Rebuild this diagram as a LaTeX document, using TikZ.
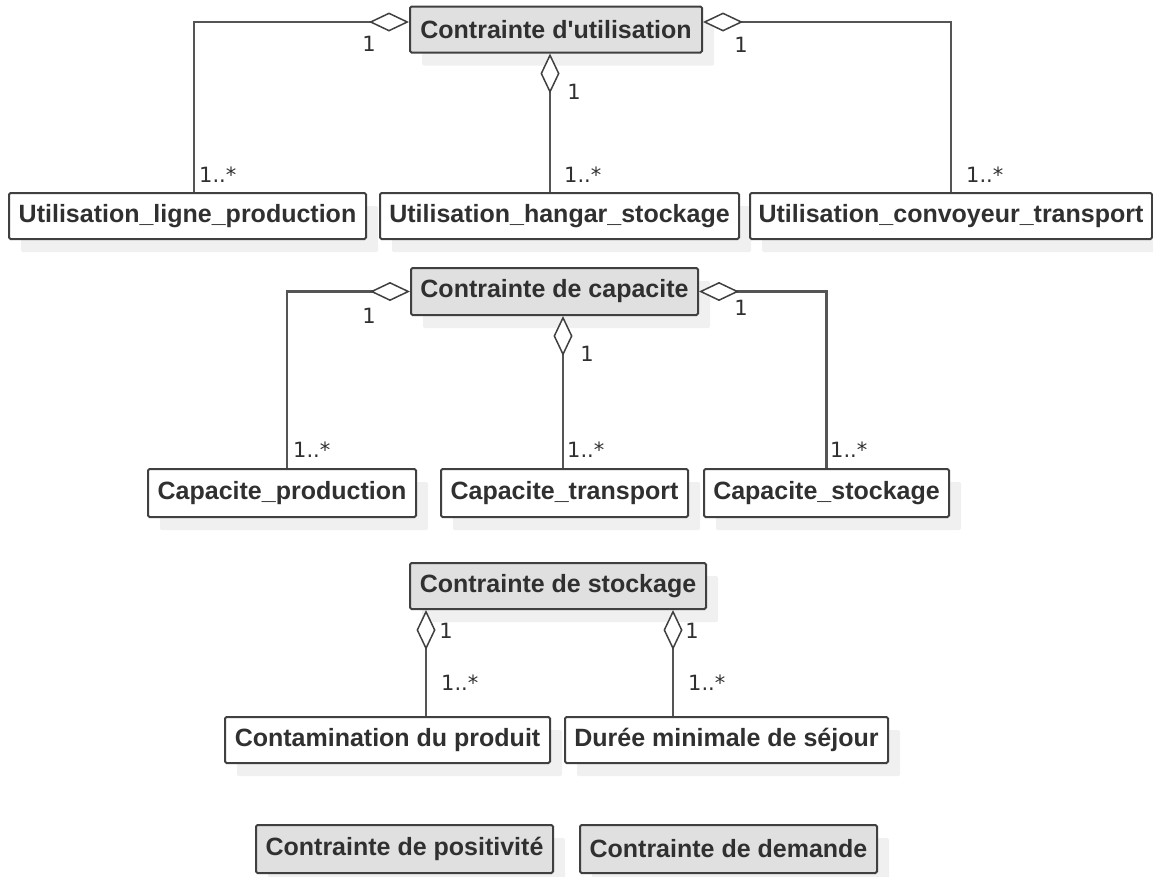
\documentclass[tikz,border=0pt]{standalone}
\usepackage{fontspec}
\setmainfont{Liberation Sans}
\newfontfamily\multfont{DejaVu Sans}
\usetikzlibrary{arrows.meta,shadows}
\definecolor{boxline}{HTML}{404040}
\definecolor{boxfill}{HTML}{E0E0E0}
\definecolor{linkgray}{HTML}{555555}
\definecolor{txtgray}{HTML}{303030}
\definecolor{shadowgray}{HTML}{F0F0F0}

\begin{document}
\begin{tikzpicture}[x=1pt,y=-1pt,
  classbox/.style={draw=boxline,line width=2pt,rounded corners=1.5pt,fill=white,
    minimum height=46pt,inner sep=0pt,text=txtgray,
    font=\fontsize{25}{30}\selectfont\bfseries,
    drop shadow={shadow xshift=12pt,shadow yshift=-13pt,fill=shadowgray,opacity=1,draw=none}},
  groupbox/.style={classbox,fill=boxfill},
  agg/.style={draw=linkgray,line width=2.5pt,
    {Diamond[open,length=40pt,width=19pt,line width=1.5pt,color=boxline,fill=white]}-},
  mult/.style={text=txtgray,font=\multfont\fontsize{21}{24}\selectfont,inner sep=0pt}]
  \useasboundingbox (0,0) rectangle (1153,876);

  % utilisation
  \node[groupbox,minimum width=292pt] (cu) at (556,29.5) {Contrainte d\textquotesingle utilisation};
  \node[classbox,minimum width=357pt] (ulp) at (187.5,216) {Utilisation\_ligne\_production};
  \node[classbox,minimum width=359pt] (uhs) at (559.5,216) {Utilisation\_hangar\_stockage};
  \node[classbox,minimum width=402pt] (uct) at (951,216) {Utilisation\_convoyeur\_transport};
  \draw[agg] ([yshift=7.5pt]cu.west) -| ([xshift=6.5pt]ulp.north);
  \draw[agg] ([yshift=7.5pt]cu.east) -| (uct.north);
  \draw[agg] ([xshift=-6pt]cu.south) -- ([xshift=-6pt]cu.south |- uhs.north);
  \node[mult] (cu1) at (369,44) {1};
  \node[mult] (cu2) at (741,45) {1};
  \node[mult] (cu3) at (574,92) {1};
  \node[mult,anchor=base west] (ulpm) at (199,182) {1..*};
  \node[mult,anchor=base west] (uhsm) at (564,182) {1..*};
  \node[mult,anchor=base west] (uctm) at (966,182) {1..*};

  % capacite
  \node[groupbox,minimum width=287pt,minimum height=47pt] (cc) at (554.5,291.5) {Contrainte de capacite};
  \node[classbox,minimum width=268pt,minimum height=48pt] (cp) at (282,493) {Capacite\_production};
  \node[classbox,minimum width=247pt,minimum height=48pt] (ct) at (564.5,493) {Capacite\_transport};
  \node[classbox,minimum width=245pt,minimum height=48pt] (cs) at (826.5,493) {Capacite\_stockage};
  \draw[agg] (cc.west) -| ([xshift=5pt]cp.north);
  \draw[agg] (cc.east) -| (cs.north);
  \draw[agg] ([xshift=8.5pt]cc.south) -- ([xshift=8.5pt]cc.south |- ct.north);
  \node[mult] (cc1) at (369,316) {1};
  \node[mult] (cc2) at (741,308) {1};
  \node[mult] (cc3) at (587,354) {1};
  \node[mult,anchor=base west] (cpm) at (293,457) {1..*};
  \node[mult,anchor=base west] (ctm) at (567,457) {1..*};
  \node[mult,anchor=base west] (csm) at (830,457) {1..*};

  % stockage
  \node[groupbox,minimum width=296pt] (cst) at (558,586) {Contrainte de stockage};
  \node[classbox,minimum width=325pt] (cdp) at (387.5,740) {Contamination du produit};
  \node[classbox,minimum width=323pt] (dms) at (726.5,740) {Durée minimale de séjour};
  \draw[agg] ([xshift=-132pt]cst.south) -- ([xshift=-132pt]cst.south |- cdp.north);
  \draw[agg] ([xshift=115pt]cst.south) -- ([xshift=115pt]cst.south |- dms.north);
  \node[mult] (cst1) at (446,631) {1};
  \node[mult] (cst2) at (692,631) {1};
  \node[mult,anchor=base west] (cdpm) at (441,690) {1..*};
  \node[mult,anchor=base west] (dmsm) at (688,690) {1..*};

  \node[groupbox,minimum width=297pt,minimum height=48pt] (cpo) at (404.5,849) {Contrainte de positivité};
  \node[groupbox,minimum width=297pt,minimum height=48pt] (cde) at (728.5,849) {Contrainte de demande};
\end{tikzpicture}
\end{document}
